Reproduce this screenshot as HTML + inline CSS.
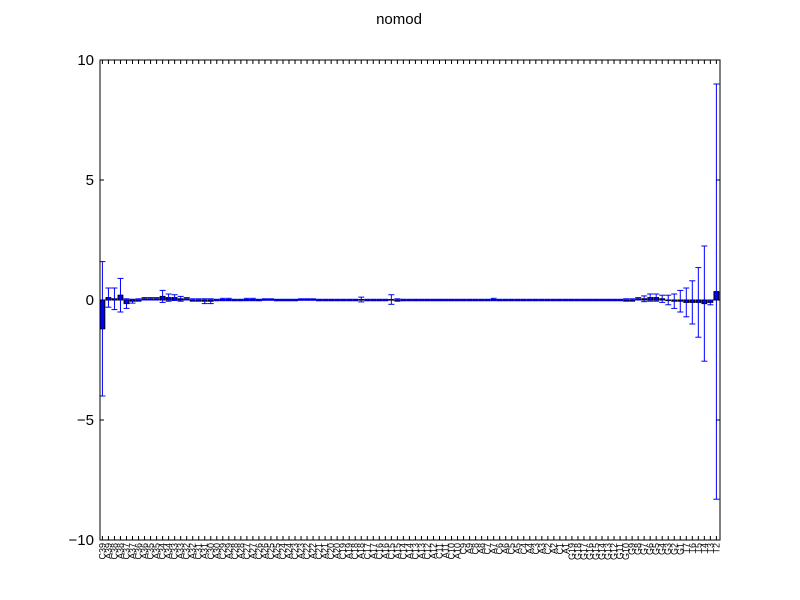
<!DOCTYPE html>
<html><head><meta charset="utf-8">
<style>
body{margin:0;background:#fff;}
svg{display:block;font-family:"Liberation Sans","DejaVu Sans",sans-serif;}
</style></head>
<body>
<svg id="chart" width="800" height="600">
<rect width="800" height="600" fill="#fff"/>
<text x="399" y="24" font-size="15" text-anchor="middle">nomod</text>
<g id="marks"></g>
<rect x="100" y="60" width="620" height="480" fill="none" stroke="#000" stroke-width="1"/>
<g id="axes"></g>
</svg>
<script>
const labels = [
"C39","A39","C38","A38","C37","A37","C36","A36","C35","A35",
"C34","A34","C33","A33","C32","A32","C31","A31","C30","A30",
"C29","A29","C28","A28","C27","A27","C26","A26","C25","A25",
"C24","A24","C23","A23","C22","A22","C21","A21","C20","A20",
"C19","A19","C18","A18","C17","A17","C16","A16","C15","A15",
"C14","A14","C13","A13","C12","A12","C11","A11","C10","A10",
"C9","A9","C8","A8","C7","A7","C6","A6","C5","A5",
"C4","A4","C3","A3","C2","A2","C1","A1","G19","G18",
"G17","G16","G15","G14","G13","G12","G11","G10","G9","G8",
"G7","G6","G5","G4","G3","G2","G1","T7","T6","T5",
"T4","T3","T2"];
const values = [
-1.2,0.1,0.05,0.2,-0.15,-0.05,0,0.05,0.05,0.05,
0.15,0.1,0.1,0.05,0.05,0,0,-0.05,-0.05,0,
0.02,0.02,0,0,0.02,0.02,0,0.02,0.02,0,
0,0,0,0.02,0.02,0.02,0,0,0,0,
0,0,0,0.02,0,0,0,0,0.02,0,
0,0,0,0,0,0,0,0,0,0,
0,0,0,0,0,0.02,0,0,0,0,
0,0,0,0,0,0,0,0,0,0,
0,0,0,0,0,0,0,0,0,0.05,
0.05,0.1,0.1,0.05,0,-0.05,-0.05,-0.1,-0.1,-0.1,
-0.15,-0.1,0.35];
const errors = [
2.8,0.4,0.45,0.7,0.2,0.08,0.05,0.05,0.05,0.05,
0.25,0.15,0.12,0.1,0.05,0.05,0.05,0.1,0.1,0.03,
0.05,0.05,0.03,0.03,0.05,0.05,0.03,0.03,0.03,0.03,
0.03,0.03,0.03,0.03,0.03,0.03,0.03,0.03,0.03,0.03,
0.03,0.03,0.03,0.1,0.03,0.03,0.03,0.03,0.2,0.05,
0.03,0.03,0.03,0.03,0.03,0.03,0.03,0.03,0.03,0.03,
0.03,0.03,0.03,0.03,0.03,0.05,0.03,0.03,0.03,0.03,
0.03,0.03,0.03,0.03,0.03,0.03,0.03,0.03,0.03,0.03,
0.03,0.03,0.03,0.03,0.03,0.03,0.03,0.05,0.05,0.05,
0.12,0.15,0.15,0.15,0.2,0.3,0.45,0.6,0.9,1.45,
2.4,0.1,8.65];
const yTicks = [-10,-5,0,5,10];
const yTickLabels = ["\u221210","\u22125","0","5","10"];

const N = values.length;
const X0 = 100, X1 = 720, Y0 = 540, Y1 = 60;
const step = (X1 - X0) / N;
const xPos = i => X0 + i * step;
const yPos = v => Y0 - (v - (-10)) / 20 * (Y0 - Y1);
const NS = "http://www.w3.org/2000/svg";
const marks = document.getElementById("marks");
const axes = document.getElementById("axes");
function mk(tag, attrs, parent){const e=document.createElementNS(NS,tag);for(const k in attrs)e.setAttribute(k,attrs[k]);parent.appendChild(e);return e;}

for (let i = 0; i < N; i++) {
  const v = values[i], e = errors[i];
  const bx = xPos(i), bw = step * 0.8;
  const top = Math.min(yPos(v), yPos(0)), h = Math.abs(yPos(v) - yPos(0));
  const bar = mk("rect", {x: bx, y: top, width: bw, height: Math.max(h, 0.6), fill: "#0000ff", stroke: "#000", "stroke-width": 1}, marks);
  
  
  const cx = bx + bw / 2;
  const g = mk("g", {stroke: "#0000ff", "stroke-width": 1}, marks);
  
  
  mk("line", {x1: cx, x2: cx, y1: yPos(v + e), y2: yPos(v - e)}, g);
  mk("line", {x1: cx - 3, x2: cx + 3, y1: yPos(v + e), y2: yPos(v + e)}, g);
  mk("line", {x1: cx - 3, x2: cx + 3, y1: yPos(v - e), y2: yPos(v - e)}, g);
}
for (let i = 0; i < N; i++) {
  const tx = xPos(i) + step * 0.4;
  mk("line", {x1: tx, x2: tx, y1: Y0, y2: Y0 - 4, stroke: "#000"}, axes);
  mk("line", {x1: tx, x2: tx, y1: Y1, y2: Y1 + 4, stroke: "#000"}, axes);
  const t = mk("text", {x: 0, y: 0, "font-size": 9, "text-anchor": "end", transform: `translate(${tx + 3},${Y0 + 3}) rotate(-90)`}, axes);
  t.textContent = labels[i];
  
  
}
yTicks.forEach((v, k) => {
  const y = yPos(v);
  mk("line", {x1: X0, x2: X0 + 4, y1: y, y2: y, stroke: "#000"}, axes);
  mk("line", {x1: X1, x2: X1 - 4, y1: y, y2: y, stroke: "#000"}, axes);
  const t = mk("text", {x: X0 - 6, y: y + 5, "font-size": 15, "text-anchor": "end"}, axes);
  t.textContent = yTickLabels[k];
  
  
});
</script>
</body></html>
